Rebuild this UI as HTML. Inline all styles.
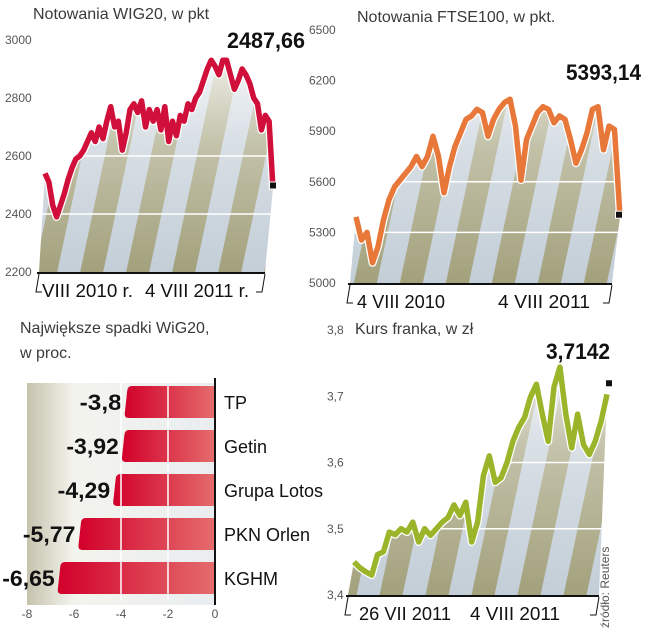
<!DOCTYPE html>
<html><head><meta charset="utf-8">
<style>
html,body{margin:0;padding:0;background:#fff;}
svg{display:block;font-family:"Liberation Sans",sans-serif;}
.t{font-size:16px;fill:#3a3a3a;}
.tick{font-size:12px;fill:#555;}
.big{font-family:"Liberation Sans",sans-serif;font-weight:bold;font-size:22px;fill:#111;}
.date{font-size:18px;fill:#111;}
.name{font-family:"Liberation Sans",sans-serif;font-size:18px;fill:#111;}
</style></head>
<body>
<svg id="chart" width="648" height="640" viewBox="0 0 648 640">
<defs>
<pattern id="stripes" width="46" height="46" patternUnits="userSpaceOnUse" patternTransform="skewX(-12)">
<rect width="46" height="46" fill="#c3ced7"/><rect width="23" height="46" fill="#a3a17c"/>
</pattern>
<linearGradient id="fadeW" x1="0" y1="0" x2="0" y2="1">
<stop offset="0" stop-color="#fff" stop-opacity="0.9"/><stop offset="0.45" stop-color="#fff" stop-opacity="0.35"/><stop offset="1" stop-color="#fff" stop-opacity="0"/>
</linearGradient>
<linearGradient id="barG" x1="0" y1="0" x2="1" y2="0">
<stop offset="0" stop-color="#d2002b"/><stop offset="1" stop-color="#e56c6c"/>
</linearGradient>
<linearGradient id="barBg" x1="0" y1="0" x2="1" y2="0">
<stop offset="0" stop-color="#c5c3ad"/><stop offset="0.25" stop-color="#f4f4ee"/><stop offset="1" stop-color="#e9edf0"/>
</linearGradient>
</defs>
<g id="layer"></g>
</svg>
<script>
// WIG20
const wigValues=[2540,2510,2430,2390,2430,2470,2520,2560,2590,2600,2620,2650,2680,2650,2700,2660,2720,2770,2700,2720,2620,2680,2760,2780,2750,2790,2700,2760,2720,2760,2690,2770,2650,2720,2670,2740,2720,2780,2760,2800,2820,2860,2900,2930,2910,2880,2930,2930,2880,2830,2860,2900,2880,2850,2800,2780,2690,2740,2720,2488];
const wigTicks=[3000,2800,2600,2400,2200];
const wigGrid=[2400,2600];
// FTSE100
const ftseValues=[5392,5255,5300,5120,5215,5375,5493,5570,5610,5650,5690,5750,5690,5750,5870,5750,5535,5690,5810,5890,5970,5990,6030,6010,5870,5970,6030,6070,6090,5930,5610,5850,5930,6010,6045,6030,5950,5990,5970,5850,5710,5790,5890,6030,6045,5790,5930,5910,5393];
const ftseTicks=[6500,6200,5900,5600,5300,5000];
const ftseGrid=[5300,5600];
// CHF
const chfValues=[3.450,3.441,3.435,3.430,3.461,3.465,3.495,3.491,3.500,3.495,3.510,3.480,3.500,3.490,3.500,3.510,3.517,3.536,3.520,3.540,3.480,3.510,3.580,3.610,3.570,3.577,3.600,3.632,3.653,3.668,3.699,3.718,3.673,3.632,3.714,3.744,3.673,3.622,3.673,3.627,3.612,3.632,3.662,3.703];
const chfTicks=[3.8,3.7,3.6,3.5,3.4];
const chfGrid=[3.5,3.6];
// bars
const barNames=["TP","Getin","Grupa Lotos","PKN Orlen","KGHM"];
const barValues=[-3.8,-3.92,-4.29,-5.77,-6.65];
const barLabels=["-3,8","-3,92","-4,29","-5,77","-6,65"];
const barTicks=[-8,-6,-4,-2,0];

const NS="http://www.w3.org/2000/svg";
const layer=document.getElementById('layer');
function mk(tag,attrs,parent,text){const e=document.createElementNS(NS,tag);for(const k in attrs)e.setAttribute(k,attrs[k]);if(text!==undefined)e.textContent=text;(parent||layer).appendChild(e);return e;}
function squeeze(e,w){e.setAttribute('textLength',w);e.setAttribute('lengthAdjust','spacingAndGlyphs');}

function lineChart(o,vals,ticks,grid){
  const g=mk('g',{});
  
  
  const y=v=>o.y0-(v-o.vmin)/(o.vmax-o.vmin)*(o.y0-o.y1);
  const x=i=>o.x0+i*(o.x1-o.x0)/(vals.length-1);
  const pts=vals.map((v,i)=>[x(i),y(v)]);
  const poly=pts.map(p=>p.join(',')).join(' ')+' '+(o.x1-8)+','+o.y0+' '+(o.x0-6)+','+o.y0;
  const f=mk('polygon',{points:poly,fill:'url(#stripes)'},g);
  
  
  mk('rect',{x:o.x0-10,y:o.y1,width:o.x1-o.x0+20,height:o.y0-o.y1,fill:'url(#fadeW)'},g);
  grid.forEach(v=>{const l=mk('line',{x1:o.x0-6,x2:o.x1,y1:y(v),y2:y(v),stroke:'#fff','stroke-width':1.5},g);
    
    });
  const d='M'+pts.map(p=>p[0].toFixed(1)+','+p[1].toFixed(1)).join('L');
  mk('path',{d:d,fill:'none',stroke:'#fff','stroke-width':8,'stroke-linejoin':'round'},g);
  const ln=mk('path',{d:d,fill:'none',stroke:o.color,'stroke-width':5.5,'stroke-linejoin':'round'},g);
  
  
  const lp=pts[pts.length-1];
  const sq=mk('rect',{x:lp[0]+o.sq[0]-3.5,y:lp[1]+o.sq[1]-3.5,width:7,height:7,fill:'#111',stroke:'#fff','stroke-width':1},g);
  
  
  ticks.forEach(v=>{const t=mk('text',{x:o.tx,y:y(v)+4,class:'tick'},g,o.fmt(v));
    
    });
  const ax=mk('line',{x1:o.x0-8,x2:o.x1-8,y1:o.y0+1,y2:o.y0+1,stroke:'#111','stroke-width':2},g);
  
  
  mk('path',{d:`M${o.x0-6},${o.y0+2} L${o.x0-9},${o.y0+20} L${o.x0-3},${o.y0+20} M${o.x1-8},${o.y0+2} L${o.x1-11},${o.y0+20} L${o.x1-17},${o.y0+20}`,fill:'none',stroke:'#111','stroke-width':1},g);
  o.dates.forEach(dd=>{const t=mk('text',{x:dd[0],y:o.y0+25,class:'date'},g,dd[1]);
    squeeze(t,dd[2]);
    
    });
  const tt=mk('text',{x:o.titleX,y:o.titleY,class:'t'},g,o.title);
  
  
  const bv=mk('text',{x:o.bigX-o.bigW,y:o.bigY,class:'big'},g,o.big);
  squeeze(bv,o.bigW);
  
  
}
lineChart({name:'wig20-chart',x0:45,x1:273,y0:272,y1:40,vmin:2200,vmax:3000,color:'#d0103a',sq:[0,-3],tx:5,fmt:v=>String(v),
  dates:[[42,'VIII 2010 r.',91],[145,'4 VIII 2011 r.',104]],title:'Notowania WIG20, w pkt',titleX:33,titleY:19,big:'2487,66',bigX:305,bigW:78,bigY:48},wigValues,wigTicks,wigGrid);
lineChart({name:'ftse100-chart',x0:356,x1:620,y0:283,y1:30,vmin:5000,vmax:6500,color:'#e8773a',sq:[-1,-2],tx:309,fmt:v=>String(v),
  dates:[[357,'4 VIII 2010',88],[498,'4 VIII 2011',92]],title:'Notowania FTSE100, w pkt.',titleX:357,titleY:22,big:'5393,14',bigX:641,bigW:75,bigY:80},ftseValues,ftseTicks,ftseGrid);
lineChart({name:'chf-chart',x0:354,x1:607,y0:595,y1:330,vmin:3.4,vmax:3.8,color:'#9ab52a',sq:[2,-11],tx:327,fmt:v=>v.toFixed(1).replace('.',','),
  dates:[[359,'26 VII 2011',92],[470,'4 VIII 2011',90]],title:'Kurs franka, w zł',titleX:355,titleY:334,big:'3,7142',bigX:610,bigW:64,bigY:359},chfValues,chfTicks,chfGrid);

// bar chart
const bx=v=>215+v*(215-27)/8;
const bg=mk('g',{});


mk('rect',{x:27,y:383,width:188,height:222,fill:'url(#barBg)'},bg);
[['Największe spadki WiG20,',333],['w proc.',358]].forEach(a=>{const t=mk('text',{x:20,y:a[1],class:'t'},bg,a[0]);
  
  });
barValues.forEach((v,i)=>{
  const top=386+i*44,h=32,l=bx(v),r=bx(0);
  const b=mk('path',{d:`M${r},${top} L${l+6},${top} Q${l+2},${top} ${l+1.5},${top+5} L${l-1},${top+h-4} Q${l-1},${top+h} ${l+3},${top+h} L${r},${top+h} Z`,fill:'url(#barG)'},bg);
  
  
  const w=barLabels[i].length*10.5;
  const lt=mk('text',{x:l-4-w,y:top+24,class:'big'},bg,barLabels[i]);
  squeeze(lt,w);
  
  
  const nt=mk('text',{x:224,y:top+23,class:'name'},bg,barNames[i]);
  
  
});
[-2,-4].forEach(v=>mk('line',{x1:bx(v),x2:bx(v),y1:383,y2:600,stroke:'#fff','stroke-width':1.5},bg));
const za=mk('line',{x1:215,x2:215,y1:378,y2:605,stroke:'#111','stroke-width':2},bg);


barTicks.forEach(v=>{const t=mk('text',{x:bx(v),y:618,class:'tick','text-anchor':'middle'},bg,String(v));
  
  });
const src=mk('text',{x:0,y:0,class:'tick',transform:'translate(609,628) rotate(-90)'},layer,'źródło: Reuters');


</script>
</body></html>
